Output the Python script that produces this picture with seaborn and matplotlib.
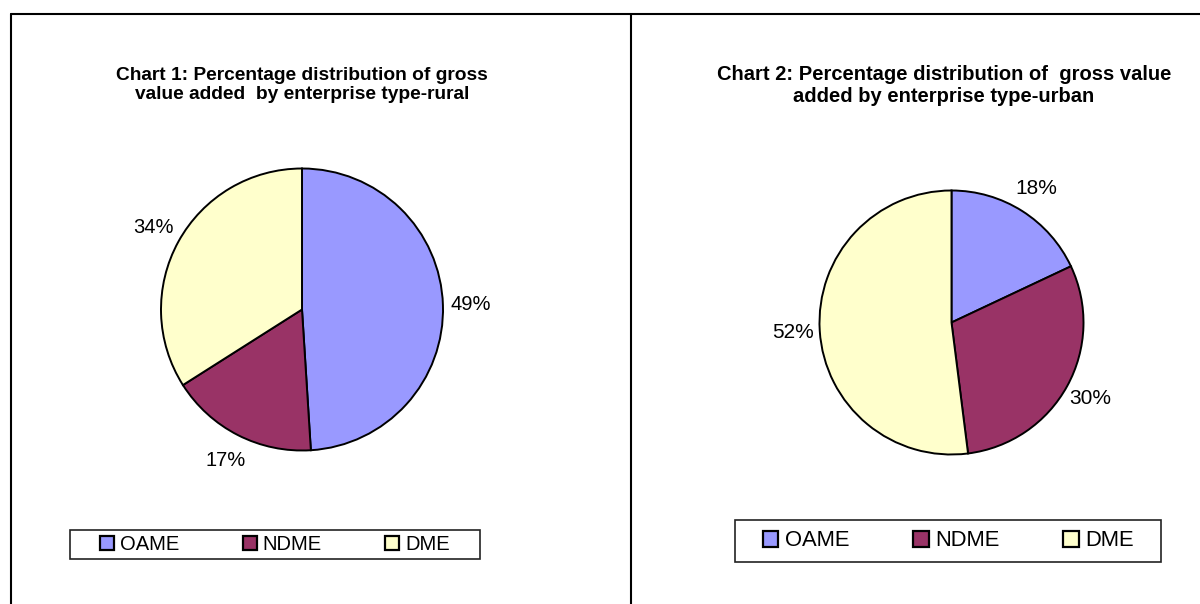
import matplotlib
matplotlib.use("Agg")
import matplotlib.pyplot as plt
from matplotlib.patches import Patch, Rectangle
from matplotlib.lines import Line2D
import seaborn as sns

categories = ["OAME", "NDME", "DME"]
rural_values = [49, 17, 34]
urban_values = [18, 30, 52]
title_rural = "Chart 1: Percentage distribution of gross\nvalue added  by enterprise type-rural"
title_urban = "Chart 2: Percentage distribution of  gross value\nadded by enterprise type-urban"
colors = ["#9999FF", "#993366", "#FFFFCC"]

sns.set_theme(style="white")
plt.rcParams['font.family'] = ['Liberation Sans', 'DejaVu Sans']
plt.rcParams['text.color'] = 'black'

W, H = 1200, 604
fig = plt.figure(figsize=(W / 100, H / 100), dpi=100)
fig.patch.set_facecolor("white")


def fx(x):
    return x / W


def fy(y):
    return 1 - y / H


# panel borders
lw = 1.5
fig.add_artist(Line2D([fx(11), fx(1200)], [fy(14), fy(14)], color="black", lw=lw))
fig.add_artist(Line2D([fx(11), fx(11)], [fy(14), fy(604)], color="black", lw=lw))
fig.add_artist(Line2D([fx(631), fx(631)], [fy(14), fy(604)], color="black", lw=lw))


def draw_pie(values, cx, cy, r, title, tx, ty, fs_title, legend_box, legend_inner, fs_lab, fs_leg):
    ax = fig.add_axes([fx(cx - r), fy(cy + r), 2 * r / W, 2 * r / H])
    wedges, texts, autotexts = ax.pie(
        values, colors=colors, startangle=90, counterclock=False,
        autopct="%1.0f%%", pctdistance=1.2,
        wedgeprops=dict(edgecolor="black", linewidth=1.4),
        textprops=dict(fontsize=fs_lab, color="black"))
    ax.set_xlim(-1, 1)
    ax.set_ylim(-1, 1)
    ax.set_aspect("equal")
    ax.axis("off")
    fig.text(fx(tx), fy(ty), title, ha="center", va="center", color="black",
             fontsize=fs_title, fontweight="bold", linespacing=1.2)
    # legend frame
    x0, y0, x1, y1 = legend_box
    fig.add_artist(Rectangle((fx(x0), fy(y1)), (x1 - x0) / W, (y1 - y0) / H,
                             transform=fig.transFigure, fill=False,
                             edgecolor="#222222", linewidth=1.2))
    ix0, ix1 = legend_inner
    yc = (y0 + y1) / 2
    handles = [Patch(facecolor=c, edgecolor="black", linewidth=1.6) for c in colors]
    leg = fig.legend(handles, categories, loc="center", ncol=3, mode="expand",
                     bbox_to_anchor=(fx(ix0), fy(yc) - 0.001, (ix1 - ix0) / W, 0.002),
                     bbox_transform=fig.transFigure,
                     frameon=False, fontsize=fs_leg, handlelength=0.7, handleheight=0.7,
                     handletextpad=0.3, borderpad=0, borderaxespad=0)
    for t in leg.get_texts():
        t.set_color("black")


draw_pie(rural_values, 302, 309.5, 141, title_rural, 302, 85, 13.8,
         (70, 530, 480, 559), (100, 450), 14.5, 14.5)
draw_pie(urban_values, 951.5, 322.5, 132, title_urban, 944, 86, 14.5,
         (735, 520, 1161, 562), (763, 1134), 15, 15.8)

fig.savefig("out.png", dpi=100, facecolor="white")
